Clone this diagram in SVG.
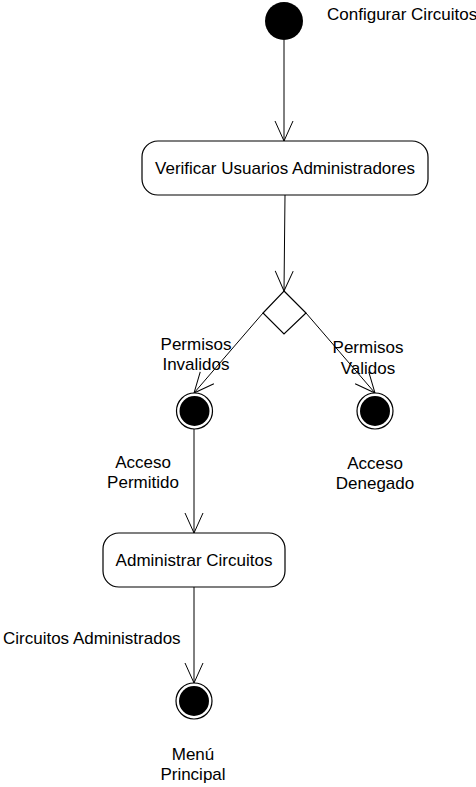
<svg xmlns="http://www.w3.org/2000/svg" width="476" height="787" viewBox="0 0 476 787">
<style>
text{font-family:"Liberation Sans",Arial,sans-serif;font-size:17px;fill:#000}
.c{text-anchor:middle}
.box{fill:#fff;stroke:#000;stroke-width:1.2}
.ln{stroke:#000;stroke-width:1;fill:none}
</style>
<defs>
<marker id="arr" markerUnits="userSpaceOnUse" viewBox="-22 -11 24 22" refX="0" refY="0" markerWidth="24" markerHeight="22" orient="auto">
<path d="M-20,-9 L0,0 L-20,9" fill="none" stroke="#000" stroke-width="1"/>
</marker>
</defs>
<rect width="476" height="787" fill="#fff"/>
<g id="connectors">
<line class="ln" x1="284" y1="40" x2="284" y2="141" marker-end="url(#arr)"/>
<line class="ln" x1="285" y1="195" x2="284" y2="291" marker-end="url(#arr)"/>
<line class="ln" x1="263" y1="313" x2="194" y2="393" marker-end="url(#arr)"/>
<line class="ln" x1="306" y1="313" x2="375" y2="393" marker-end="url(#arr)"/>
<line class="ln" x1="194" y1="429" x2="194" y2="533" marker-end="url(#arr)"/>
<line class="ln" x1="194" y1="587" x2="194" y2="683" marker-end="url(#arr)"/>
</g>
<g id="inicio">
<circle cx="284" cy="21" r="19" fill="#000"/>
<text x="327" y="20">Configurar Circuitos</text>
</g>
<g id="verificar">
<rect class="box" x="142" y="141" width="286" height="54" rx="16"/>
<text class="c" x="285" y="174">Verificar Usuarios Administradores</text>
</g>
<g id="decision">
<polygon points="284,291 306,313 284,334 263,313" fill="#fff" stroke="#000" stroke-width="1.2"/>
</g>
<g id="lbl-invalidos">
<text class="c" x="196" y="350">Permisos</text>
<text class="c" x="196" y="370">Invalidos</text>
</g>
<g id="lbl-validos">
<text class="c" x="368" y="353">Permisos</text>
<text class="c" x="368" y="374">Validos</text>
</g>
<g id="fin-permitido">
<circle cx="194.5" cy="411" r="18" fill="#fff" stroke="#000" stroke-width="1.2"/>
<circle cx="194.5" cy="411" r="15" fill="#000"/>
<text class="c" x="143" y="468">Acceso</text>
<text class="c" x="143" y="488">Permitido</text>
</g>
<g id="fin-denegado">
<circle cx="375" cy="411" r="18" fill="#fff" stroke="#000" stroke-width="1.2"/>
<circle cx="375" cy="411" r="15" fill="#000"/>
<text class="c" x="375" y="469">Acceso</text>
<text class="c" x="375" y="489">Denegado</text>
</g>
<g id="administrar">
<rect class="box" x="103" y="533" width="182" height="54" rx="16"/>
<text class="c" x="194" y="566">Administrar Circuitos</text>
</g>
<g id="lbl-administrados">
<text x="3" y="644">Circuitos Administrados</text>
</g>
<g id="fin-menu">
<circle cx="194" cy="701" r="18" fill="#fff" stroke="#000" stroke-width="1.2"/>
<circle cx="194" cy="701" r="15" fill="#000"/>
<text class="c" x="193" y="760">Menú</text>
<text class="c" x="193" y="780">Principal</text>
</g>
</svg>
